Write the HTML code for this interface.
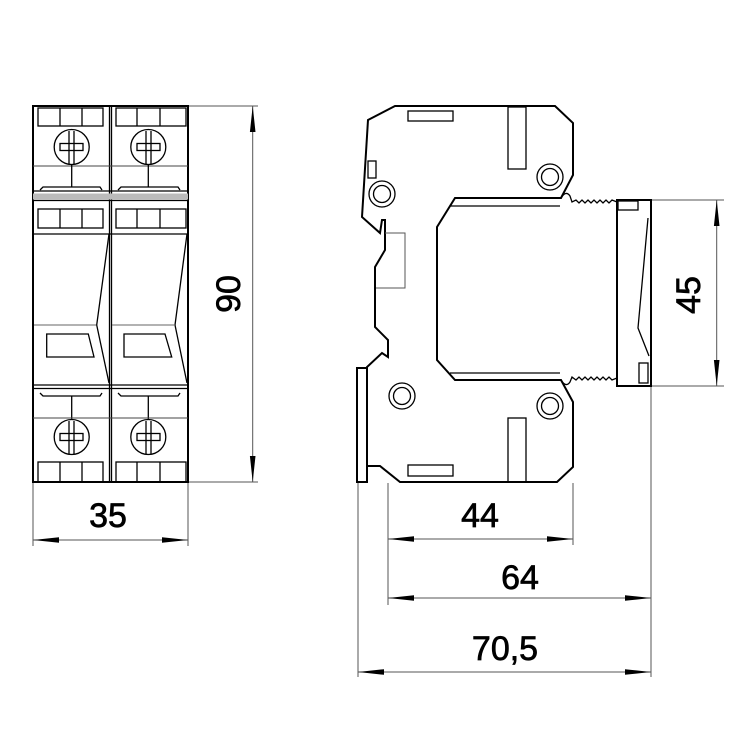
<!DOCTYPE html>
<html><head><meta charset="utf-8"><style>html,body{margin:0;padding:0;background:#fff}svg{display:block}</style></head><body>
<svg width="750" height="750" viewBox="0 0 750 750" xmlns="http://www.w3.org/2000/svg">
<defs>
<marker id="a" viewBox="0 0 26 8" refX="26" refY="4" markerWidth="26" markerHeight="8" markerUnits="userSpaceOnUse" orient="auto-start-reverse"><path d="M0,1.2 L26,4 L0,6.8 Z" fill="#000"/></marker>
</defs>
<g fill="none" stroke="#000" stroke-width="1.3">
<!-- FRONT VIEW -->
<rect x="33" y="106" width="155" height="376" stroke-width="2"/>
<line x1="109.5" y1="106" x2="109.5" y2="482"/><line x1="111.5" y1="106" x2="111.5" y2="482"/>
<rect x="38" y="108" width="65" height="18"/><line x1="60" y1="108" x2="60" y2="126"/><line x1="82" y1="108" x2="82" y2="126"/>
<rect x="116" y="108" width="70" height="18"/><line x1="137" y1="108" x2="137" y2="126"/><line x1="160" y1="108" x2="160" y2="126"/>
<circle cx="71.7" cy="147" r="17.5"/><rect x="60" y="143.5" width="23" height="7"/><line x1="69" y1="131" x2="69" y2="164"/><line x1="74" y1="131" x2="74" y2="164"/>
<circle cx="148.3" cy="147" r="17.5"/><rect x="137" y="143.5" width="23" height="7"/><line x1="146" y1="131" x2="146" y2="164"/><line x1="151" y1="131" x2="151" y2="164"/>
<line x1="33" y1="166" x2="188" y2="166" stroke="#444" stroke-width="1"/>
<line x1="71.7" y1="164.5" x2="71.7" y2="187"/><line x1="148.3" y1="164.5" x2="148.3" y2="187"/>
<polyline points="40,190 43,187 100,187 102,190"/><polyline points="118,190 121,187 178,187 180,190"/>
<line x1="33" y1="191" x2="188" y2="191"/>
<rect x="33" y="193.5" width="155" height="6" fill="#bbb" stroke="none"/>
<line x1="33" y1="200.5" x2="188" y2="200.5"/>
<rect x="38" y="209" width="65" height="19"/><line x1="60" y1="209" x2="60" y2="228"/><line x1="82" y1="209" x2="82" y2="228"/>
<rect x="116" y="209" width="70" height="19"/><line x1="137" y1="209" x2="137" y2="228"/><line x1="160" y1="209" x2="160" y2="228"/>
<line x1="33" y1="234" x2="188" y2="234"/>
<polyline points="109,234 96.7,325 109,383"/><polyline points="187,234 175,325 187,383"/>
<line x1="34" y1="325" x2="96" y2="325" stroke="#666" stroke-width="1"/><line x1="112" y1="325" x2="175" y2="325" stroke="#666" stroke-width="1"/>
<polygon points="46.7,334 88.3,334 94,357 46.7,357"/>
<polygon points="124,334 165,334 171.7,357 124,357"/>
<line x1="33" y1="385" x2="188" y2="385"/><line x1="33" y1="388.5" x2="188" y2="388.5"/>
<polyline points="40,393 43,396 100,396 102,393"/><polyline points="118,393 121,396 178,396 180,393"/>
<line x1="71.7" y1="396" x2="71.7" y2="419"/><line x1="148.3" y1="396" x2="148.3" y2="419"/>
<line x1="33" y1="418" x2="188" y2="418" stroke="#444" stroke-width="1"/>
<circle cx="71.7" cy="437" r="17.5"/><rect x="60" y="433.5" width="23" height="7"/><line x1="69" y1="421" x2="69" y2="454"/><line x1="74" y1="421" x2="74" y2="454"/>
<circle cx="148.3" cy="437" r="17.5"/><rect x="137" y="433.5" width="23" height="7"/><line x1="146" y1="421" x2="146" y2="454"/><line x1="151" y1="421" x2="151" y2="454"/>
<rect x="38" y="462" width="65" height="20"/><line x1="60" y1="462" x2="60" y2="482"/><line x1="82" y1="462" x2="82" y2="482"/>
<rect x="116" y="462" width="70" height="20"/><line x1="137" y1="462" x2="137" y2="482"/><line x1="160" y1="462" x2="160" y2="482"/>

<!-- SIDE VIEW -->
<path d="M395,106 L555,106 L573,123 L573,175 L561,198 L455,198 L437,227 L437,360 L455,380 L561,380 L573,402 L573,467 L557,482 L400,482 L380,466 L367,466 L367,367 L382,353 L388,357 L388,340 L375,327 L375,267 L385,250 L385,220 L382,220 L380,233 L362,217 L368,120 Z" stroke-width="2"/>
<rect x="357" y="368" width="10" height="114" stroke-width="2"/>
<line x1="450" y1="206" x2="560" y2="206"/><line x1="450" y1="373" x2="560" y2="373"/>
<path d="M561,198 Q566,190 570,196 L572,202 L576,200 L579,203 L582,200 L585,203 L588,200 L591,203 L594,200 L597,203 L600,200 L603,203 L606,200 L609,203 L612,200 L617,202"/>
<path d="M561,380 Q566,388 570,382 L572,377 L576,380 L579,377 L582,380 L585,377 L588,380 L591,377 L594,380 L597,377 L600,380 L603,377 L606,380 L609,377 L612,380 L617,378"/>
<rect x="617" y="200" width="34" height="186" stroke-width="2"/>
<rect x="618" y="201" width="20" height="9"/>
<rect x="639" y="363" width="9" height="20"/>
<polyline points="648,218 638,328 649,356"/>
<rect x="408" y="111" width="45" height="10"/>
<rect x="508" y="107" width="18" height="62"/>
<rect x="408" y="465" width="45" height="11"/>
<rect x="508" y="418" width="18" height="64"/>
<rect x="368" y="161" width="8" height="17"/>
<polyline points="385,233 405,233 405,288 376,288" stroke="#555" stroke-width="1"/>
<circle cx="550" cy="177" r="13"/><circle cx="550" cy="177" r="8.5"/>
<circle cx="382" cy="194" r="13"/><circle cx="382" cy="194" r="8.5"/>
<circle cx="402" cy="396" r="13"/><circle cx="402" cy="396" r="8.5"/>
<circle cx="550" cy="406" r="13"/><circle cx="550" cy="406" r="8.5"/>
</g>
<g stroke="#555" stroke-width="1" fill="none">
<line x1="189" y1="106" x2="258" y2="106"/><line x1="189" y1="482" x2="258" y2="482"/>
<line x1="33" y1="483" x2="33" y2="546"/><line x1="188" y1="483" x2="188" y2="546"/>
<line x1="652" y1="200" x2="724" y2="200"/><line x1="652" y1="386" x2="724" y2="386"/>
<line x1="358" y1="483" x2="358" y2="677"/><line x1="388" y1="483" x2="388" y2="605"/>
<line x1="573" y1="483" x2="573" y2="545"/><line x1="651" y1="387" x2="651" y2="677"/>
</g>
<g stroke="#555" stroke-width="1" marker-start="url(#a)" marker-end="url(#a)">
<line x1="252.7" y1="106" x2="252.7" y2="482"/>
<line x1="33" y1="540" x2="188" y2="540"/>
<line x1="716.7" y1="200" x2="716.7" y2="386"/>
<line x1="388" y1="539" x2="573" y2="539"/>
<line x1="388" y1="598" x2="651" y2="598"/>
<line x1="358" y1="672" x2="651" y2="672"/>
</g>
<g font-family="'Liberation Sans Narrow','Liberation Sans',sans-serif" font-size="34" fill="#000" stroke="#000" stroke-width="0.7" text-anchor="middle">
<text x="108" y="527">35</text>
<text x="480" y="527">44</text>
<text x="520" y="589">64</text>
<text x="505" y="660">70,5</text>
<text transform="translate(240,294) rotate(-90)">90</text>
<text transform="translate(700,295) rotate(-90)">45</text>
</g>
</svg>
</body></html>
